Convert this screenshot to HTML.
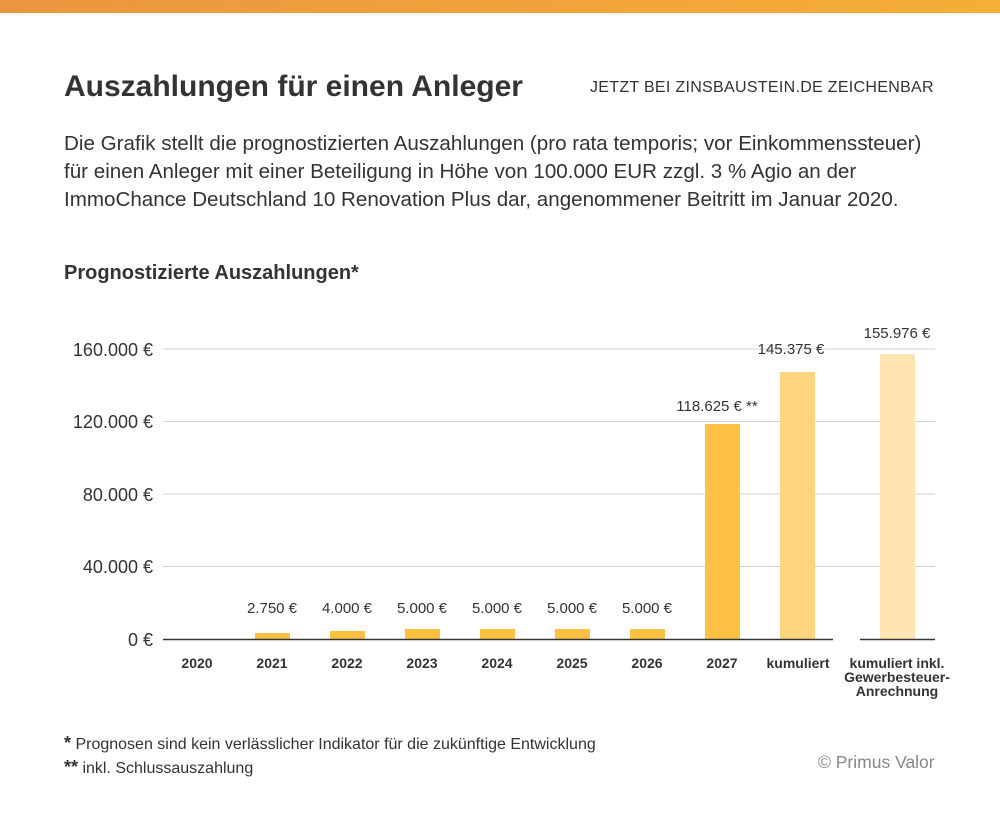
<!DOCTYPE html>
<html><head><meta charset="utf-8"><style>
body{margin:0;width:1000px;height:827px;background:#fff;font-family:"Liberation Sans",sans-serif;color:#333;position:relative;overflow:hidden}
.t{position:absolute;white-space:nowrap}
</style></head><body>
<div style="position:absolute;left:0;top:0;width:1000px;height:13px;background:linear-gradient(90deg,#EA9640,#F6AE35)"></div>
<div class="t" style="left:64px;top:70px;font-size:30px;font-weight:bold;color:#333">Auszahlungen für einen Anleger</div>
<div class="t" style="left:590px;top:79px;font-size:16px;color:#333;letter-spacing:0.3px">JETZT BEI ZINSBAUSTEIN.DE ZEICHENBAR</div>
<div class="t" style="left:64px;top:130px;font-size:20.6px;line-height:28px;color:#333">Die Grafik stellt die prognostizierten Auszahlungen (pro rata temporis; vor Einkommenssteuer)<br>für einen Anleger mit einer Beteiligung in Höhe von 100.000 EUR zzgl. 3 % Agio an der<br>ImmoChance Deutschland 10 Renovation Plus dar, angenommener Beitritt im Januar 2020.</div>
<div class="t" style="left:64px;top:262px;font-size:20px;font-weight:bold">Prognostizierte Auszahlungen*</div>
<svg width="1000" height="827" style="position:absolute;left:0;top:0" font-family="Liberation Sans, sans-serif">
<g stroke="#d0d0d0" stroke-width="1">
<line x1="163" x2="935" y1="349" y2="349"/><line x1="163" x2="935" y1="421.5" y2="421.5"/><line x1="163" x2="935" y1="494" y2="494"/><line x1="163" x2="935" y1="566.5" y2="566.5"/>
</g>
<g fill="#333" font-size="18" text-anchor="end">
<text x="153" y="356">160.000 €</text><text x="153" y="428">120.000 €</text><text x="153" y="501">80.000 €</text><text x="153" y="573">40.000 €</text><text x="153" y="646">0 €</text>
</g>
<g fill="#FDC143">
<rect x="255" y="633" width="35" height="6"/><rect x="330" y="631" width="35" height="8"/><rect x="405" y="629" width="35" height="10"/><rect x="480" y="629" width="35" height="10"/><rect x="555" y="629" width="35" height="10"/><rect x="630" y="629" width="35" height="10"/><rect x="705" y="424" width="35" height="215"/>
</g>
<rect x="780" y="372" width="35" height="267" fill="#FDD57E"/>
<rect x="880" y="354" width="35" height="285" fill="#FEE5B3"/>
<line x1="163" x2="833" y1="639.5" y2="639.5" stroke="#333" stroke-width="1.5"/>
<line x1="860" x2="935" y1="639.5" y2="639.5" stroke="#333" stroke-width="1.5"/>
<g fill="#333" font-size="15" text-anchor="middle">
<text x="272" y="613">2.750 €</text><text x="347" y="613">4.000 €</text><text x="422" y="613">5.000 €</text><text x="497" y="613">5.000 €</text><text x="572" y="613">5.000 €</text><text x="647" y="613">5.000 €</text>
<text x="717" y="411">118.625 € **</text><text x="791" y="354">145.375 €</text><text x="897" y="338">155.976 €</text>
</g>
<g fill="#333" font-size="14" font-weight="bold" text-anchor="middle">
<text x="197" y="668">2020</text><text x="272" y="668">2021</text><text x="347" y="668">2022</text><text x="422" y="668">2023</text><text x="497" y="668">2024</text><text x="572" y="668">2025</text><text x="647" y="668">2026</text><text x="722" y="668">2027</text><text x="798" y="668">kumuliert</text>
<text x="897" y="668">kumuliert inkl.</text><text x="897" y="682">Gewerbesteuer-</text><text x="897" y="696">Anrechnung</text>
</g>
</svg>
<div class="t" style="left:64px;top:733px;font-size:16px"><b style="font-size:18px">*</b> Prognosen sind kein verlässlicher Indikator für die zukünftige Entwicklung</div>
<div class="t" style="left:64px;top:757px;font-size:16px"><b style="font-size:18px">**</b> inkl. Schlussauszahlung</div>
<div class="t" style="left:818px;top:752px;font-size:17.5px;color:#888">© Primus Valor</div>
</body></html>
